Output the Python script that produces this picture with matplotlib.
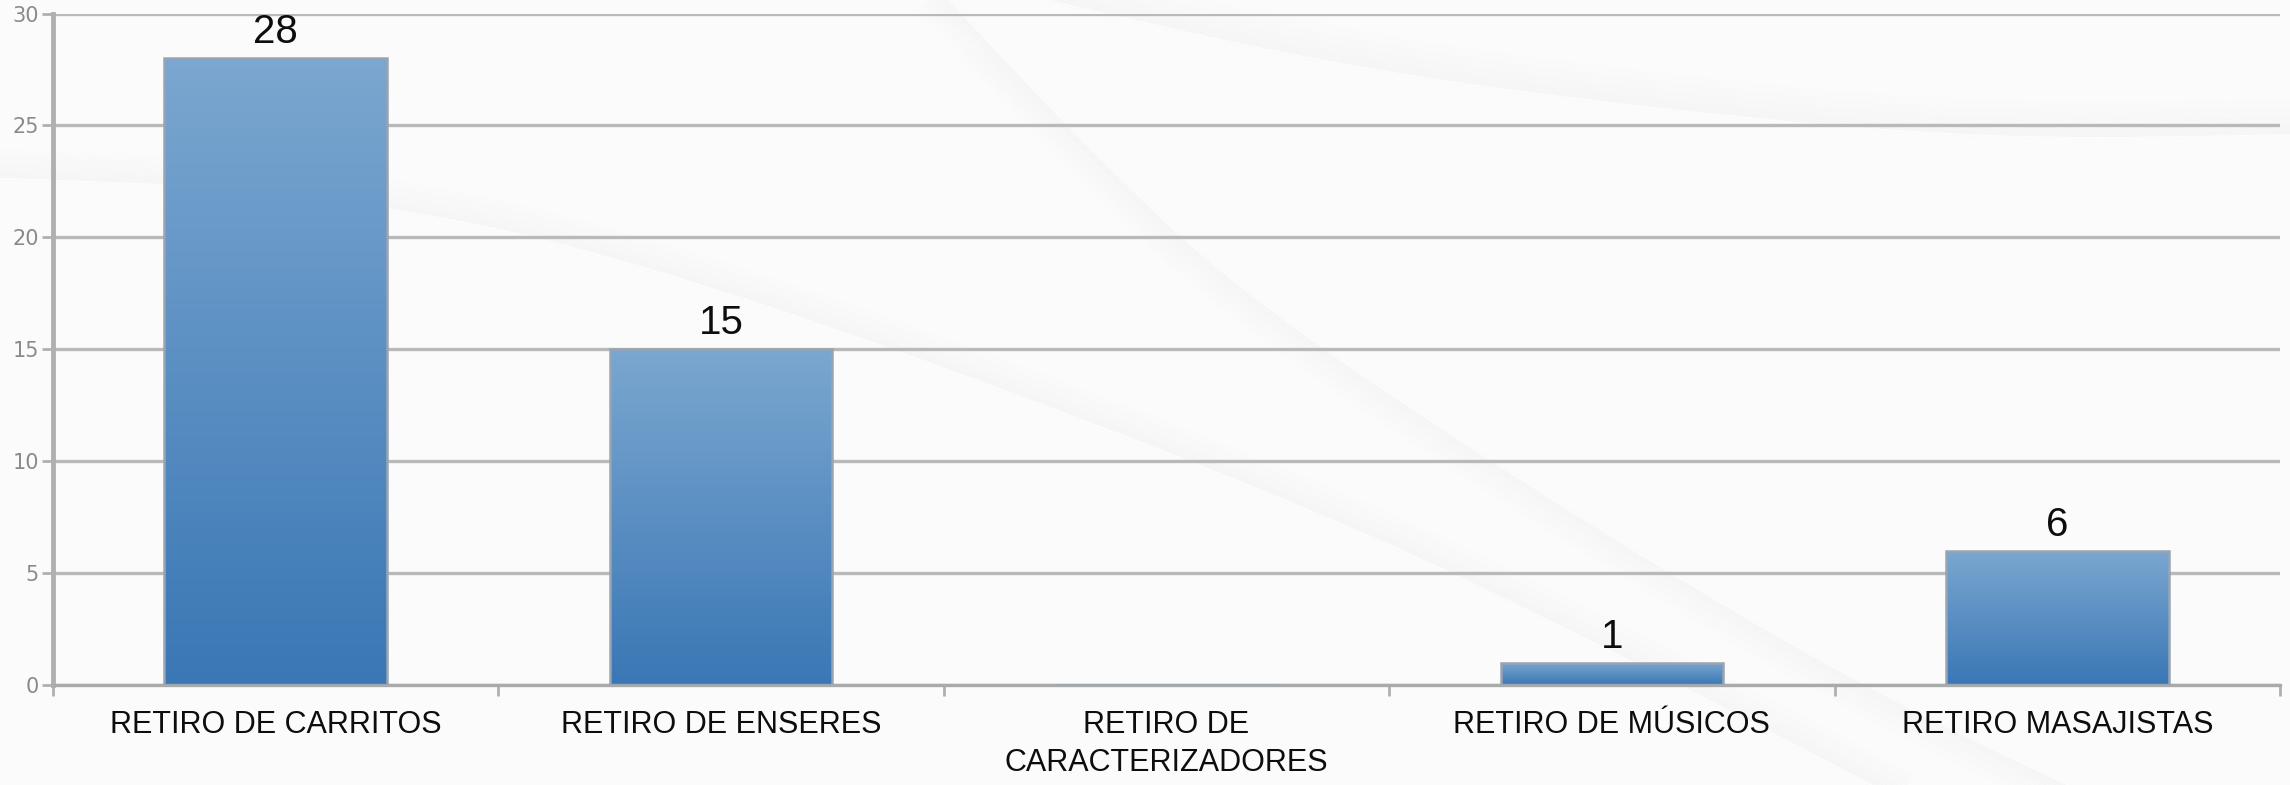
import numpy as np
import matplotlib.pyplot as plt
from matplotlib.colors import LinearSegmentedColormap

categories = ['RETIRO DE CARRITOS', 'RETIRO DE ENSERES', 'RETIRO DE\nCARACTERIZADORES',
              'RETIRO DE MÚSICOS', 'RETIRO MASAJISTAS']
values = [28, 15, 0, 1, 6]
y_ticks = [0, 5, 10, 15, 20, 25, 30]

W, H = 2290, 785
fig = plt.figure(figsize=(W / 100, H / 100), dpi=100)
fig.patch.set_facecolor('#fbfbfb')

# soft grey swooshes behind the chart
bg = fig.add_axes([0, 0, 1, 1], zorder=0)
bg.set_xlim(0, W)
bg.set_ylim(H, 0)
bg.axis('off')


def chaikin(pts, iters=5):
    p = np.array(pts, float)
    for _ in range(iters):
        q = 0.75 * p[:-1] + 0.25 * p[1:]
        r = 0.25 * p[:-1] + 0.75 * p[1:]
        p = np.vstack([p[:1], np.column_stack([q, r]).reshape(-1, 2), p[-1:]])
    return p[:, 0], p[:, 1]


def swoosh(pts, side=1, n=14, step=2.2, alpha=0.035):
    x, y = chaikin(pts)
    dx, dy = np.gradient(x), np.gradient(y)
    norm = np.hypot(dx, dy)
    nx, ny = -dy / norm * side, dx / norm * side
    for k in range(n):
        a = alpha * (1 - k / n)
        bg.plot(x + nx * k * step, y + ny * k * step, color='#8c8c8c',
                lw=step * 0.9, alpha=a, solid_capstyle='butt')
    bg.plot(x, y, color='white', lw=1.5, alpha=0.7)


swoosh([(-20, 178), (300, 190), (650, 260), (1300, 500), (1650, 670), (1900, 800)], side=-1)
swoosh([(940, -10), (1100, 160), (1250, 300), (1550, 500), (1850, 680), (2100, 800)], side=1)
swoosh([(1000, -10), (1350, 70), (1700, 115), (2000, 140), (2300, 135)], side=-1, n=18)

ax = fig.add_axes([53 / W, 1 - 685 / H, (2280 - 53) / W, (685 - 13.5) / H], zorder=1)
ax.patch.set_alpha(0)

x = np.arange(len(categories))
bars = ax.bar(x, values, width=0.5, color='none', edgecolor='#98a4b2',
              linewidth=1.8, zorder=3)

# vertical gradient fill for each bar
cmap = LinearSegmentedColormap.from_list('bar', ['#3a77b5', '#7ba7d0'])
grad = np.linspace(0, 1, 256).reshape(-1, 1)
for b in bars:
    h = b.get_height()
    if h <= 0:
        continue
    x0, w = b.get_x(), b.get_width()
    im = ax.imshow(grad, cmap=cmap, origin='lower', extent=[x0, x0 + w, 0, h],
                   aspect='auto', zorder=2, interpolation='bilinear')
    im.set_clip_path(b)

for b, v in zip(bars, values):
    if v > 0:
        ax.annotate(str(v), (b.get_x() + b.get_width() / 2, v), xytext=(0, 5),
                    textcoords='offset points', ha='center', va='bottom',
                    fontsize=29, family='Liberation Sans', color='#0d0d0d')

ax.set_xlim(-0.5, len(categories) - 0.5)
ax.set_ylim(0, 30)

ax.set_yticks(y_ticks)
ax.yaxis.grid(True, color='#b9b9b9', linewidth=2.4)
ax.set_axisbelow(True)

for s in ['top', 'right']:
    ax.spines[s].set_visible(False)
ax.spines['left'].set_color('#b0b0b0')
ax.spines['left'].set_linewidth(3.5)
ax.spines['bottom'].set_color('#aaaaaa')
ax.spines['bottom'].set_linewidth(2.4)

ax.tick_params(axis='y', length=8, width=2, color='#b0b0b0', labelsize=15,
               labelcolor='#8a8a8a', pad=2)
ax.set_xticks(x)
ax.set_xticklabels(categories, fontsize=22, family='Liberation Sans',
                   color='#0d0d0d', linespacing=1.35)
ax.set_xticks(np.arange(-0.5, len(categories)), minor=True)
ax.tick_params(axis='x', which='major', length=0, pad=18)
ax.tick_params(axis='x', which='minor', length=8, width=2, color='#b0b0b0')

fig.savefig('out.png', dpi=100, facecolor=fig.get_facecolor())
